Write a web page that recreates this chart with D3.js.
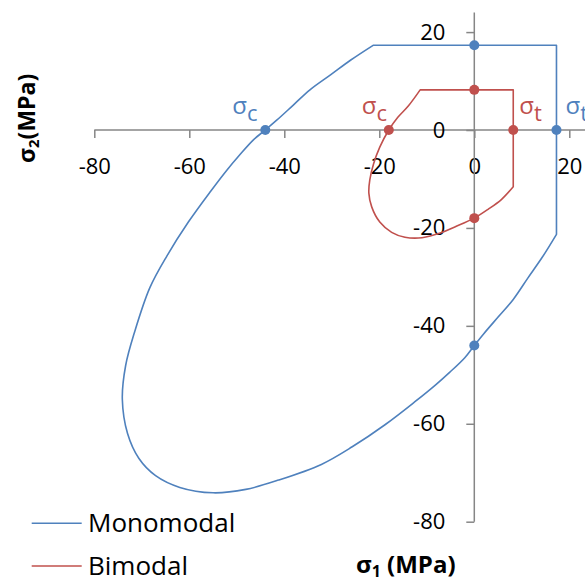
<!DOCTYPE html>
<html><head><meta charset="utf-8">
<script src="https://cdn.jsdelivr.net/npm/d3@7"></script>
<style>body{margin:0;background:#fff;} svg{display:block;}</style>
</head><body><svg id="c" width="585" height="579"></svg>
<script>
// ---- data ----
const seriesNames = ["Monomodal", "Bimodal"];
const seriesColors = ["#4F81BD", "#C0504D"];

const monoS1 = [0, 17.3, 17.3, 14.3, 11.3, 8.2, 5.1, 2.0, 0, -2.0, -5.2, -8.2, -12.5, -18.8, -25.7, -32.2, -41.2, -48.1, -55.0, -62.0, -67.1, -70.6, -73.0, -74.1, -73.4, -71.5, -68.3, -64.7, -60.2, -55.5, -52.1, -49.5, -46.5, -44, -41.6, -38.1, -34.6, -30.2, -26.0, -21.3, 0];
const monoS2 = [17.3, 17.3, -21.3, -26.0, -30.2, -34.6, -38.1, -41.6, -44, -46.5, -49.5, -52.1, -55.5, -60.2, -64.7, -68.3, -71.5, -73.4, -74.1, -73.0, -70.6, -67.1, -62.0, -55.0, -48.1, -41.2, -32.2, -25.7, -18.8, -12.5, -8.2, -5.2, -2.0, 0, 2.0, 5.1, 8.2, 11.3, 14.3, 17.3, 17.3];

const biS1 = [0, 8.2, 8.2, 5.7, 2.9, 0, -4.1, -7.0, -11.0, -14.6, -17.4, -19.9, -21.6, -22.2, -22.0, -21.2, -19.9, -18, -16.1, -13.9, -11.4, 0];
const biS2 = [8.2, 8.2, -11.6, -14.2, -16.2, -18, -19.8, -21.0, -22.0, -21.9, -20.9, -18.8, -15.7, -12.9, -10.2, -6.9, -3.5, 0, 2.6, 4.9, 8.2, 8.2];

// strength markers
const monoMarkS1 = [0, -44, 17.3, 0];
const monoMarkS2 = [17.3, 0, 0, -44];
const biMarkS1 = [0, -18, 8.2, 0];
const biMarkS2 = [8.2, 0, 0, -18];

// annotation labels: series index, anchor s1, subscript
const labelSeries = [0, 0, 1, 1];
const labelS1 = [-44, 17.3, -18, 8.2];
const labelSub = ["c", "t", "c", "t"];

const xTicks = [-80, -60, -40, -20, 0, 20];
const yTicks = [-80, -60, -40, -20, 0, 20];
const xDomain = [-80, 24];
const yDomain = [-80, 24];

// ---- drawing ----
const svg = d3.select("#c");
const FONT = "'Open Sans', 'Liberation Sans', sans-serif";
const x = d3.scaleLinear().domain(xDomain).range([94.3, 588.3]);
const y = d3.scaleLinear().domain(yDomain).range([521.7, 12.5]);
const axisColor = "#868686";
const fmt = d => String(d);

const gx = svg.append("g").attr("transform", `translate(0,${y(0)})`)
  .call(d3.axisBottom(x).tickValues(xTicks).tickSize(8).tickSizeOuter(0).tickPadding(20).tickFormat(fmt));
const gy = svg.append("g").attr("transform", `translate(${x(0)},0)`)
  .call(d3.axisLeft(y).tickValues(yTicks).tickSize(8).tickSizeOuter(0).tickPadding(21).tickFormat(fmt));
[gx, gy].forEach(g => {
  g.selectAll("path,line").attr("stroke", axisColor).attr("stroke-width", 1.5);
  g.selectAll("text").attr("fill", "#000").style("font-family", FONT).style("font-size", "22px");
});
gx.select(".domain").attr("d", `M${x(xDomain[0])},0H${x(xDomain[1])}`);
gy.select(".domain").attr("d", `M0,${y(yDomain[0])}V${y(yDomain[1])}`);

const straight = d3.line().x(d => x(d[0])).y(d => y(d[1]));
const smooth = d3.line().x(d => x(d[0])).y(d => y(d[1])).curve(d3.curveCatmullRom.alpha(0.5));
const series = [
  { pts: d3.zip(monoS1, monoS2), marks: d3.zip(monoMarkS1, monoMarkS2) },
  { pts: d3.zip(biS1, biS2), marks: d3.zip(biMarkS1, biMarkS2) }
];
series.forEach((s, i) => {
  const n = s.pts.length;
  // flat top + vertical right side are straight; the rest is a smooth curve
  const d = straight(s.pts.slice(0, 3)) + smooth(s.pts.slice(2, n - 1)).replace(/^M[^C]*/, "") + "L" + x(s.pts[n - 1][0]) + "," + y(s.pts[n - 1][1]);
  svg.append("path").attr("d", d)
    .attr("fill", "none").attr("stroke", seriesColors[i]).attr("stroke-width", 1.6)
    .attr("stroke-linejoin", "round");
});
series.forEach((s, i) => {
  svg.selectAll(null).data(s.marks).enter().append("circle")
    .attr("cx", d => x(d[0])).attr("cy", d => y(d[1])).attr("r", 5)
    .attr("fill", seriesColors[i]);
});

// sigma annotations
const labelDx = [-33, 9, -27, 6];
labelS1.forEach((v, i) => {
  const t = svg.append("text")
    .attr("x", x(v) + labelDx[i]).attr("y", y(0) - 16)
    .attr("fill", seriesColors[labelSeries[i]])
    .style("font-family", FONT).style("font-size", "24px");
  t.append("tspan").text("σ");
  t.append("tspan").attr("dy", 7).style("font-size", "22px").text(labelSub[i]);
});

// axis titles
const xt = svg.append("text").attr("x", 356).attr("y", 573)
  .style("font-family", FONT).style("font-size", "24px").style("font-weight", "bold").attr("fill", "#000");
xt.append("tspan").text("σ");
xt.append("tspan").attr("dy", 4).style("font-size", "16px").text("1");
xt.append("tspan").attr("dy", -4).text(" (MPa)");

const yt = svg.append("text").attr("transform", "translate(35,163) rotate(-90)")
  .style("font-family", FONT).style("font-size", "23px").style("font-weight", "bold").attr("fill", "#000");
yt.append("tspan").text("σ");
yt.append("tspan").attr("dy", 4).style("font-size", "15px").text("2");
yt.append("tspan").attr("dy", -4).text("(MPa)");

// legend
const legY = [523.3, 566];
seriesNames.forEach((n, i) => {
  svg.append("line").attr("x1", 31.7).attr("x2", 81.7).attr("y1", legY[i]).attr("y2", legY[i])
    .attr("stroke", seriesColors[i]).attr("stroke-width", 1.6);
  svg.append("text").attr("x", 88).attr("y", legY[i] + 8.5).text(n)
    .style("font-family", FONT).style("font-size", "26px").attr("fill", "#000");
});
</script></body></html>
